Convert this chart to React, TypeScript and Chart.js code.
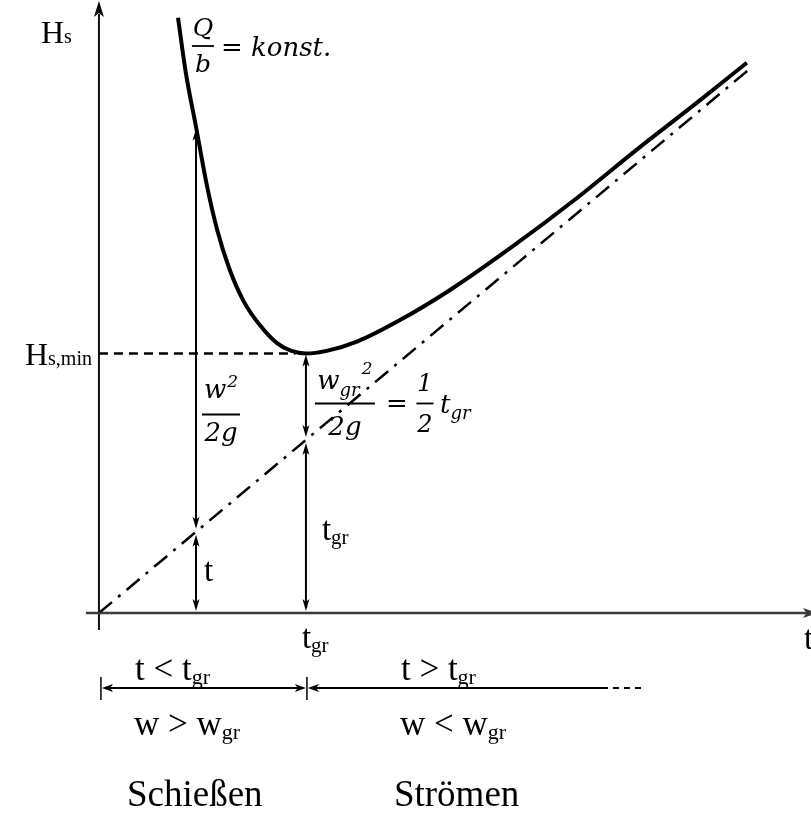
import React, { useEffect, useRef } from "react";
import { Chart, registerables } from "chart.js";

Chart.register(...registerables);

// Specific energy curve H_s(t) for Q/b = const (t = flow depth)
const depthT = [0.382, 0.42, 0.469, 0.52, 0.57, 0.63, 0.7, 0.78, 0.86, 0.93, 1.0, 1.1, 1.25, 1.45, 1.7, 2.0, 2.3, 2.6, 2.9, 3.13];
const headH = [3.44, 3.12, 2.81, 2.48, 2.22, 1.99, 1.8, 1.66, 1.56, 1.515, 1.5, 1.515, 1.57, 1.69, 1.87, 2.12, 2.39, 2.68, 2.96, 3.18];
// Asymptote H = t (dash-dot)
const diagonalT = [0, 3.155];
const diagonalH = [0, 3.156];
// Critical point
const criticalDepth = 1.0;
const minHead = 1.5;
// Sample depth in the shooting range
const sampleDepth = 0.469;
const sampleHead = 2.81;
// Axis extents
const xAxisRange = [-0.478, 3.44];
const yAxisRange = [-1.179, 3.543];

const RM = (px: number) => `${px}px "Liberation Serif", "Times New Roman", serif`;
const IT = (px: number) => `italic ${px}px "DejaVu Serif", serif`;

type Run = { s: string; f: string; dy?: number; dx?: number };

function drawRuns(ctx: CanvasRenderingContext2D, x: number, y: number, runs: Run[], align: "left" | "center" | "right" = "left") {
  let w = 0;
  for (const r of runs) {
    ctx.font = r.f;
    w += ctx.measureText(r.s).width + (r.dx || 0);
  }
  let cx = align === "left" ? x : align === "center" ? x - w / 2 : x - w;
  for (const r of runs) {
    ctx.font = r.f;
    cx += r.dx || 0;
    ctx.fillText(r.s, cx, y + (r.dy || 0));
    cx += ctx.measureText(r.s).width;
  }
}

function arrowHead(ctx: CanvasRenderingContext2D, tx: number, ty: number, dx: number, dy: number, len = 12, half = 3.5) {
  const n = Math.hypot(dx, dy);
  const ux = dx / n, uy = dy / n;
  const bx = tx - ux * len, by = ty - uy * len;
  const nx = -uy, ny = ux;
  ctx.beginPath();
  ctx.moveTo(tx, ty);
  ctx.lineTo(bx + nx * half, by + ny * half);
  ctx.lineTo(tx - ux * len * 0.75, ty - uy * len * 0.75);
  ctx.lineTo(bx - nx * half, by - ny * half);
  ctx.closePath();
  ctx.fill();
}

function line(ctx: CanvasRenderingContext2D, x1: number, y1: number, x2: number, y2: number) {
  ctx.beginPath();
  ctx.moveTo(x1, y1);
  ctx.lineTo(x2, y2);
  ctx.stroke();
}

function dimV(ctx: CanvasRenderingContext2D, x: number, yTop: number, yBot: number) {
  ctx.lineWidth = 2;
  line(ctx, x, yTop + 4, x, yBot - 4);
  arrowHead(ctx, x, yTop, 0, -1);
  arrowHead(ctx, x, yBot, 0, 1);
}

function frac(ctx: CanvasRenderingContext2D, cx: number, barY: number, width: number, top: Run[], bottom: Run[], topBase: number, botBase: number) {
  ctx.lineWidth = 1.8;
  line(ctx, cx - width / 2, barY, cx + width / 2, barY);
  drawRuns(ctx, cx, topBase, top, "center");
  drawRuns(ctx, cx, botBase, bottom, "center");
}

const overlay = {
  id: "diagramOverlay",
  afterDatasetsDraw(chart: any) {
    const { ctx, scales } = chart;
    const px = (v: number) => scales.x.getPixelForValue(v);
    const py = (v: number) => scales.y.getPixelForValue(v);
    const ox = px(0), oy = py(0);
    const gx = px(criticalDepth), sx = px(sampleDepth);
    const hy = py(minHead);
    ctx.save();
    ctx.fillStyle = "#000";
    ctx.strokeStyle = "#000";
    ctx.textBaseline = "alphabetic";

    // axes
    ctx.lineWidth = 2;
    ctx.strokeStyle = "#111";
    line(ctx, ox, oy + 17, ox, py(yAxisRange[1]) + 14);
    arrowHead(ctx, ox, py(yAxisRange[1]) + 1, 0, -1, 16, 5);
    ctx.strokeStyle = "#3a3a3a";
    ctx.lineWidth = 2.5;
    line(ctx, ox - 13, oy, px(xAxisRange[1]), oy);
    ctx.fillStyle = "#3a3a3a";
    arrowHead(ctx, px(xAxisRange[1]) + 6, oy, 1, 0, 14, 5);
    ctx.fillStyle = "#000";
    ctx.strokeStyle = "#000";

    // vertical dimension arrows
    const gap = 3;
    dimV(ctx, sx, py(sampleHead) + 2, py(sampleDepth) - gap);
    dimV(ctx, sx, py(sampleDepth) + gap, oy - 2);
    dimV(ctx, gx, hy + 1, py(criticalDepth) - gap);
    dimV(ctx, gx, py(criticalDepth) + gap, oy - 2);

    // axis labels
    drawRuns(ctx, ox - 58, oy - 570, [{ s: "H", f: RM(32) }, { s: "s", f: RM(20) }]);
    drawRuns(ctx, ox - 7, hy + 12, [{ s: "H", f: RM(32) }, { s: "s,min", f: RM(20) }], "right");
    drawRuns(ctx, 804, oy + 36, [{ s: "t", f: RM(33) }]);
    drawRuns(ctx, gx - 4, oy + 35, [{ s: "t", f: RM(33) }, { s: "gr", f: RM(21), dy: 4 }]);

    // curve label
    frac(ctx, ox + 104, 46, 22, [{ s: "Q", f: IT(25) }], [{ s: "b", f: IT(25) }], 36, 72);
    drawRuns(ctx, ox + 122, 56, [{ s: "= ", f: IT(26) }, { s: "konst.", f: IT(26) }]);

    // w^2 / 2g
    frac(ctx, sx + 25, hy + 61, 38, [{ s: "w", f: IT(26) }, { s: "2", f: IT(17), dy: -11, dx: 1 }], [{ s: "2g", f: IT(26) }], hy + 45, hy + 88);
    // w_gr^2 / 2g = 1/2 t_gr
    frac(ctx, gx + 39, hy + 50, 60, [{ s: "w", f: IT(26) }, { s: "gr", f: IT(18), dy: 7 }, { s: "2", f: IT(17), dy: -15, dx: 2 }], [{ s: "2g", f: IT(26) }], hy + 36, hy + 82);
    drawRuns(ctx, gx + 80, hy + 59, [{ s: "=", f: IT(26) }]);
    frac(ctx, gx + 119, hy + 50, 17, [{ s: "1", f: IT(24) }], [{ s: "2", f: IT(24) }], hy + 38, hy + 79);
    drawRuns(ctx, gx + 134, hy + 60, [{ s: "t", f: IT(26) }, { s: "gr", f: IT(18), dy: 6 }]);

    // depth labels
    drawRuns(ctx, sx + 8, oy - 32, [{ s: "t", f: RM(33) }]);
    drawRuns(ctx, gx + 16, oy - 73, [{ s: "t", f: RM(33) }, { s: "gr", f: RM(21), dy: 4 }]);

    // regime labels
    drawRuns(ctx, ox + 36, oy + 67, [{ s: "t < t", f: RM(35) }, { s: "gr", f: RM(22), dy: 4 }]);
    drawRuns(ctx, gx + 95, oy + 67, [{ s: "t > t", f: RM(35) }, { s: "gr", f: RM(22), dy: 4 }]);
    drawRuns(ctx, ox + 35, oy + 122, [{ s: "w > w", f: RM(35) }, { s: "gr", f: RM(22), dy: 4 }]);
    drawRuns(ctx, gx + 94, oy + 122, [{ s: "w < w", f: RM(35) }, { s: "gr", f: RM(22), dy: 4 }]);
    drawRuns(ctx, ox + 28, oy + 193, [{ s: "Schießen", f: RM(37) }]);
    drawRuns(ctx, gx + 88, oy + 193, [{ s: "Strömen", f: RM(37) }]);

    // horizontal range arrows
    const ay = oy + 75;
    ctx.lineWidth = 1.5;
    line(ctx, ox + 2, ay - 11, ox + 2, ay + 12);
    line(ctx, gx + 1, ay - 11, gx + 1, ay + 12);
    ctx.lineWidth = 2;
    line(ctx, ox + 8, ay, gx - 6, ay);
    arrowHead(ctx, ox + 3, ay, -1, 0, 11, 4);
    arrowHead(ctx, gx, ay, 1, 0, 11, 4);
    line(ctx, gx + 8, ay, gx + 302, ay);
    arrowHead(ctx, gx + 2, ay, -1, 0, 11, 4);
    ctx.setLineDash([6, 5]);
    line(ctx, gx + 307, ay, gx + 335, ay);
    ctx.setLineDash([]);

    ctx.restore();
  },
};

export default function App() {
  const ref = useRef<HTMLCanvasElement | null>(null);
  useEffect(() => {
    document.body.style.margin = "0";
    const canvas = ref.current;
    if (!canvas) return;
    const chart = new Chart(canvas, {
      type: "line",
      data: {
        datasets: [
          {
            data: depthT.map((t, i) => ({ x: t, y: headH[i] })),
            borderColor: "#000",
            borderWidth: 4,
            pointRadius: 0,
            cubicInterpolationMode: "monotone",
            fill: false,
          },
          {
            data: diagonalT.map((t, i) => ({ x: t, y: diagonalH[i] })),
            borderColor: "#000",
            borderWidth: 2.5,
            borderDash: [17, 8, 3, 8],
            pointRadius: 0,
            fill: false,
          },
          {
            data: [
              { x: 0, y: minHead },
              { x: criticalDepth - 0.05, y: minHead },
            ],
            borderColor: "#000",
            borderWidth: 2.5,
            borderDash: [9, 6],
            pointRadius: 0,
            fill: false,
          },
        ],
      },
      options: {
        responsive: false,
        animation: false,
        events: [],
        layout: { padding: 0 },
        plugins: { legend: { display: false }, tooltip: { enabled: false } },
        scales: {
          x: { type: "linear", min: xAxisRange[0], max: xAxisRange[1], display: false },
          y: { type: "linear", min: yAxisRange[0], max: yAxisRange[1], display: false },
        },
      } as any,
      plugins: [overlay],
    });
    return () => chart.destroy();
  }, []);
  return <canvas ref={ref} width={811} height={817} style={{ display: "block" }} />;
}
